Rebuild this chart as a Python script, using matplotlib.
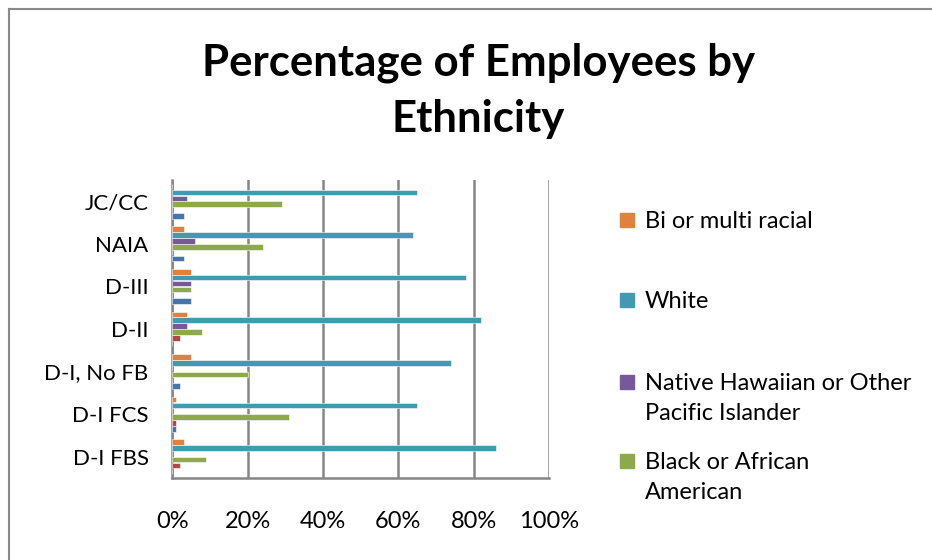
import numpy as np
import matplotlib.pyplot as plt
from matplotlib.lines import Line2D
from matplotlib.patches import Rectangle

plt.rcParams['font.family'] = ['Lato', 'DejaVu Sans']

# Divisions, bottom to top as drawn on the axis
divisions = ['D-I FBS', 'D-I FCS', 'D-I, No FB', 'D-II', 'D-III', 'NAIA', 'JC/CC']

# Percentages per ethnicity (same order as divisions)
asian = [0, 1, 2, 0, 5, 3, 3]
american_indian = [2, 1, 0, 2, 0, 0, 0]
black = [9, 31, 20, 8, 5, 24, 29]
hawaiian = [0, 0, 0, 4, 5, 6, 4]
white = [86, 65, 74, 82, 78, 64, 65]
multi = [3, 1, 5, 4, 5, 3, 0]

series = [
    ('Asian', asian, '#4775AB'),
    ('American Indian or Alaska Native', american_indian, '#B24846'),
    ('Black or African\nAmerican', black, '#8EA94C'),
    ('Native Hawaiian or Other\nPacific Islander', hawaiian, '#77599B'),
    ('White', white, '#4499B2'),
    ('Bi or multi racial', multi, '#E0823D'),
]

fig = plt.figure(figsize=(9.32, 5.6), dpi=100)
ax = fig.add_axes([0.1849, 0.1464, 0.404, 0.5322])

y = np.arange(len(divisions))
h = 0.138
for i, (name, vals, col) in enumerate(series):
    offset = (i - (len(series) - 1) / 2) * h
    ax.barh(y + offset, np.array(vals) / 100, height=h * 0.95, color=col,
            edgecolor='white', linewidth=0.4, zorder=3)

ax.set_xlim(0, 1)
ax.set_ylim(-0.5, len(divisions) - 0.5)
ax.set_xticks(np.arange(0, 1.01, 0.2))
ax.set_xticklabels(['0%', '20%', '40%', '60%', '80%', '100%'], fontsize=17)
ax.set_yticks(y)
ax.set_yticklabels(divisions, fontsize=16)
ax.tick_params(axis='y', length=0, pad=17)
ax.tick_params(axis='x', length=0, pad=24)
ax.grid(axis='x', color='#868686', linewidth=1.8, zorder=0)
for side in ['top', 'right']:
    ax.spines[side].set_visible(False)
for side in ['left', 'bottom']:
    ax.spines[side].set_color('#868686')
    ax.spines[side].set_linewidth(1.8)

fig.text(0.513, 0.838, 'Percentage of Employees by\nEthnicity', fontsize=31.5,
         fontweight='bold', ha='center', va='center', linespacing=1.5)

# legend shows only the last four series, top entry first
legend_y = [0.607, 0.464, 0.318, 0.177]
for (name, vals, col), ly in zip(series[::-1][:4], legend_y):
    fig.add_artist(Rectangle((0.6655, ly - 0.0125), 0.0145, 0.025,
                             transform=fig.transFigure, color=col))
    fig.text(0.692, ly + 0.016, name, fontsize=17, va='top', ha='left',
             linespacing=1.55)

# chart border
fig.add_artist(Line2D([0.0097, 1.0], [0.984, 0.984], color='#8a8a8a',
                      linewidth=1.5, transform=fig.transFigure))
fig.add_artist(Line2D([0.0097, 0.0097], [0.0, 0.984], color='#8a8a8a',
                      linewidth=1.5, transform=fig.transFigure))

fig.savefig('out.png', dpi=100)
